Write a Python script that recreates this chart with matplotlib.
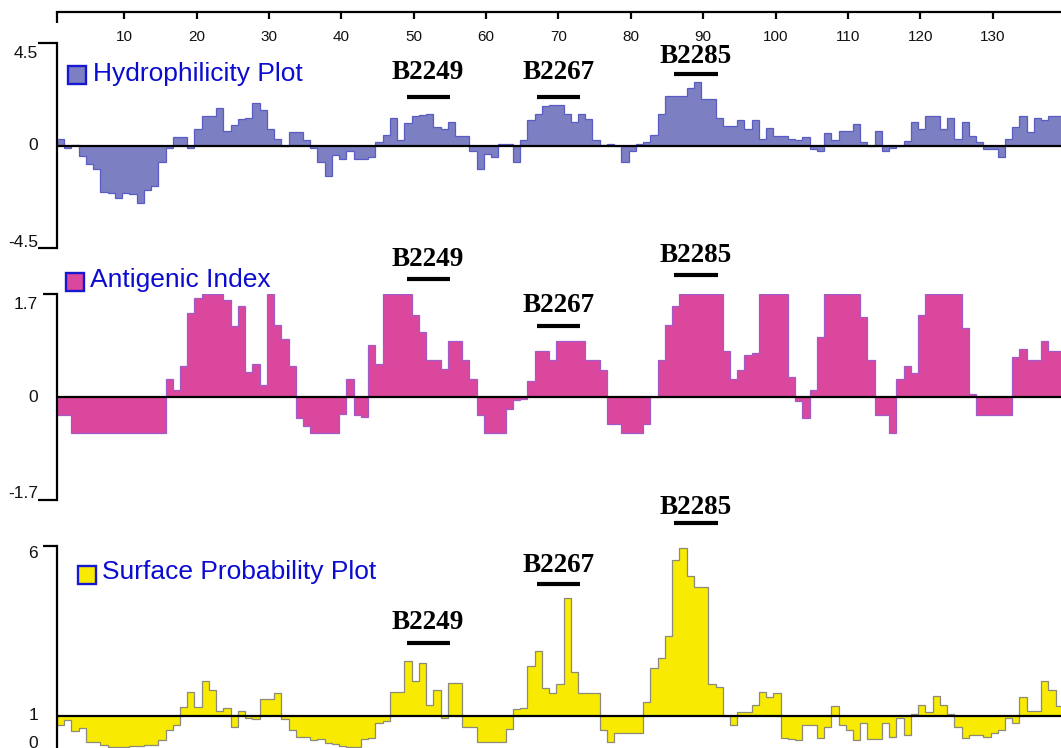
import matplotlib.pyplot as plt
import numpy as np

plt.rcParams['font.family'] = ['Liberation Sans', 'DejaVu Sans']

# residue numbers along the protein
residues = np.arange(1, 140)

hydrophilicity = [
    0.32, -0.10, 0.04, -0.44, -0.80, -1.00, -2.05, -2.08, -2.31, -2.08,
    -2.12, -2.49, -1.95, -1.76, -0.73, -0.10, 0.40, 0.40, -0.10, 0.73,
    1.32, 1.32, 1.65, 0.66, 0.90, 1.17, 1.24, 1.86, 1.57, 0.73,
    0.32, 0.00, 0.59, 0.59, 0.26, -0.10, -0.73, -1.32, -0.41, -0.59,
    -0.25, -0.59, -0.59, -0.51, 0.15, 0.47, 1.24, 0.25, 0.98, 1.29,
    1.35, 1.39, 0.83, 0.73, 1.05, 0.41, 0.41, -0.25, -1.00, -0.34,
    -0.51, 0.06, 0.06, -0.69, 0.25, 1.14, 1.39, 1.76, 1.79, 1.79,
    1.39, 1.05, 1.39, 1.17, 0.25, 0.03, 0.06, 0.00, -0.69, -0.25,
    0.06, 0.15, 0.47, 1.39, 2.20, 2.20, 2.20, 2.52, 2.78, 2.05,
    2.05, 1.24, 0.88, 0.88, 1.14, 0.73, 1.14, 0.32, 0.80, 0.41,
    0.41, 0.32, 0.25, 0.40, -0.15, -0.25, 0.56, 0.25, 0.63, 0.63,
    0.95, 0.15, 0.00, 0.63, -0.25, -0.10, 0.00, 0.22, 1.05, 0.73,
    1.29, 1.29, 0.73, 1.22, 0.32, 1.05, 0.41, 0.15, -0.15, -0.15,
    -0.51, 0.32, 0.83, 1.29, 0.59, 1.22, 1.14, 1.29, 1.29,
]

antigenic_index = [
    -0.29, -0.29, -0.60, -0.60, -0.60, -0.60, -0.60, -0.60, -0.60, -0.60,
    -0.60, -0.60, -0.60, -0.60, -0.60, 0.30, 0.12, 0.52, 1.39, 1.64,
    1.70, 1.70, 1.70, 1.61, 1.17, 1.51, 0.42, 0.55, 0.20, 1.70,
    1.20, 0.96, 0.52, -0.35, -0.47, -0.60, -0.60, -0.60, -0.60, -0.28,
    0.30, -0.29, -0.32, 0.87, 0.55, 1.70, 1.70, 1.70, 1.70, 1.36,
    1.07, 0.61, 0.61, 0.46, 0.92, 0.92, 0.61, 0.30, -0.29, -0.60,
    -0.60, -0.60, -0.20, -0.04, -0.03, 0.27, 0.77, 0.77, 0.61, 0.92,
    0.92, 0.92, 0.92, 0.61, 0.61, 0.45, -0.44, -0.44, -0.60, -0.60,
    -0.60, -0.44, 0.00, 0.61, 1.20, 1.51, 1.70, 1.70, 1.70, 1.70,
    1.70, 1.70, 0.77, 0.30, 0.45, 0.70, 0.73, 1.70, 1.70, 1.70,
    1.70, 0.34, -0.06, -0.35, 0.12, 0.99, 1.70, 1.70, 1.70, 1.70,
    1.70, 1.32, 0.62, -0.29, -0.29, -0.60, 0.30, 0.52, 0.40, 1.36,
    1.70, 1.70, 1.70, 1.70, 1.70, 1.14, 0.05, -0.29, -0.29, -0.29,
    -0.29, -0.29, 0.67, 0.80, 0.61, 0.61, 0.92, 0.77, 0.77,
]

surface_probability = [
    0.74, 0.88, 0.57, 0.64, 0.23, 0.23, 0.15, 0.08, 0.08, 0.08,
    0.12, 0.12, 0.15, 0.15, 0.29, 0.60, 0.74, 1.27, 1.72, 1.27,
    2.04, 1.76, 1.16, 1.25, 0.67, 1.16, 0.93, 0.90, 1.49, 1.49,
    1.67, 0.90, 0.60, 0.39, 0.39, 0.29, 0.31, 0.20, 0.18, 0.12,
    0.10, 0.10, 0.31, 0.34, 0.78, 0.85, 1.72, 1.72, 2.63, 2.04,
    2.57, 1.32, 1.76, 0.95, 1.96, 1.98, 0.67, 0.67, 0.23, 0.23,
    0.23, 0.23, 0.61, 1.21, 1.25, 2.48, 2.92, 1.81, 1.67, 1.94,
    4.46, 2.30, 1.67, 1.67, 1.67, 0.60, 0.23, 0.49, 0.49, 0.50,
    0.50, 1.40, 2.42, 2.70, 3.36, 5.59, 5.93, 5.12, 4.78, 4.78,
    1.95, 1.85, 1.00, 0.74, 1.12, 1.12, 1.32, 1.72, 1.55, 1.67,
    0.34, 0.31, 0.29, 0.74, 0.74, 0.34, 0.67, 1.29, 0.74, 0.60,
    0.29, 0.78, 0.31, 0.31, 0.78, 0.37, 0.93, 0.44, 1.06, 1.32,
    1.13, 1.59, 1.32, 1.06, 0.67, 0.34, 0.44, 0.44, 0.37, 0.49,
    0.60, 0.93, 0.78, 1.57, 1.16, 1.16, 2.04, 1.76, 1.29,
]

epitope_names = ['B2249', 'B2267', 'B2285']
epitope_start = [49, 67, 86]
epitope_end = [55, 73, 92]

ruler_ticks = list(range(10, 140, 10))

W, H = 1061, 748
fig = plt.figure(figsize=(W / 100, H / 100), dpi=100)
fig.patch.set_facecolor('white')

AX_LEFT = 57
x_lo, x_hi = 0.705, 139.44
edges = np.append(residues, residues[-1] + 1) - 0.3
PX = 0.72  # points per pixel

# ytick entries: value, label, label shift in px (down = +), tick length in pt
panels = [
    dict(values=hydrophilicity, base=0, ylim=(-4.5, 4.5), top=43.3, bottom=248.3,
         face='#7c7fc2', edge='#5a5cc6', label='Hydrophilicity Plot',
         swatch=(76.5, 75), text=(93, 73.5),
         yticks=[(4.5, '4.5', 10.0, 14), (0, '0', 0, 0), (-4.5, '-4.5', -5.5, 14)],
         ann_text=[3.22, 3.22, 3.91], ann_bar=[2.16, 2.16, 3.15]),
    dict(values=antigenic_index, base=0, ylim=(-1.7, 1.7), top=294.3, bottom=500,
         face='#dc479e', edge='#a25ac8', label='Antigenic Index',
         swatch=(75, 282), text=(90, 279.5),
         yticks=[(1.7, '1.7', 10.0, 10), (0, '0', 0, 0), (-1.7, '-1.7', -6.5, 14)],
         ann_text=[2.28, 1.51, 2.34], ann_bar=[1.95, 1.18, 2.02]),
    dict(values=surface_probability, base=1, ylim=(0, 6), top=546, bottom=750,
         face='#f8ea00', edge='#8c8a78', label='Surface Probability Plot',
         swatch=(87, 574.5), text=(102, 572),
         yticks=[(6, '6', 8, 10), (1, '1', 0, 0), (0, '0', -7, 0)],
         ann_text=[3.75, 5.42, 7.13], ann_bar=[3.16, 4.89, 6.67]),
]

for p in panels:
    ax = fig.add_axes([AX_LEFT / W, (H - p['bottom']) / H,
                       (W - AX_LEFT) / W, (p['bottom'] - p['top']) / H])
    ax.patch.set_visible(False)
    ax.stairs(p['values'], edges, baseline=p['base'], fill=True,
              facecolor=p['face'], edgecolor=p['edge'], linewidth=0.9, zorder=2)
    ax.axhline(p['base'], color='black', lw=1.6, zorder=3)
    ax.set_xlim(x_lo, x_hi)
    ax.set_ylim(*p['ylim'])
    ax.set_xticks([])
    for s in ['top', 'right', 'bottom']:
        ax.spines[s].set_visible(False)
    ax.spines['left'].set_linewidth(1.6)

    vals = [t[0] for t in p['yticks']]
    ax.set_yticks(vals)
    ax.set_yticklabels([])
    ax.tick_params(axis='y', length=14, width=1.6, direction='out')
    for tick, t in zip(ax.yaxis.get_major_ticks(), p['yticks']):
        tick.tick1line.set_markersize(t[3])
    for v, lab, dy, _ in p['yticks']:
        ax.annotate(lab, xy=(0, v), xycoords=('axes fraction', 'data'),
                    xytext=(-13.7, -dy * PX), textcoords='offset points',
                    ha='right', va='center', fontsize=12.5, color='#111111')

    # legend swatch and title
    h_px = p['bottom'] - p['top']
    sx = (p['swatch'][0] - AX_LEFT) / (W - AX_LEFT)
    sy = 1 - (p['swatch'][1] - p['top']) / h_px
    ax.plot([sx], [sy], marker='s', ms=13.5, mfc=p['face'], mec='#1818d0',
            mew=1.7, transform=ax.transAxes, clip_on=False, zorder=5)
    tx = (p['text'][0] - AX_LEFT) / (W - AX_LEFT)
    ty = 1 - (p['text'][1] - p['top']) / h_px
    ax.text(tx, ty, p['label'], transform=ax.transAxes, fontsize=19,
            color='#0c0cd0', ha='left', va='center')

    # epitope markers
    for name, s, e, yt, yb in zip(epitope_names, epitope_start, epitope_end,
                                  p['ann_text'], p['ann_bar']):
        ax.plot([s, e], [yb, yb], color='black', lw=3, clip_on=False,
                solid_capstyle='butt', zorder=4)
        ax.text((s + e) / 2, yt, name, ha='center', va='center',
                family=['Liberation Serif', 'DejaVu Serif'], weight='bold',
                fontsize=19.5, color='black')

# residue ruler along the top
ax_r = fig.add_axes([AX_LEFT / W, (H - 12.3) / H, (W - AX_LEFT) / W, 0.0001])
ax_r.patch.set_visible(False)
for s in ['top', 'right', 'left']:
    ax_r.spines[s].set_visible(False)
ax_r.spines['bottom'].set_linewidth(1.6)
ax_r.set_xlim(x_lo, x_hi)
ax_r.set_yticks([])
ax_r.set_xticks(ruler_ticks)
ax_r.set_xticks([x_lo], minor=True)
ax_r.tick_params(axis='x', which='major', direction='out', length=5, width=1.6,
                 pad=7.5, labelsize=11, labelcolor='#111111')
ax_r.tick_params(axis='x', which='minor', direction='out', length=8, width=1.6)

fig.savefig('out.png', dpi=100)
